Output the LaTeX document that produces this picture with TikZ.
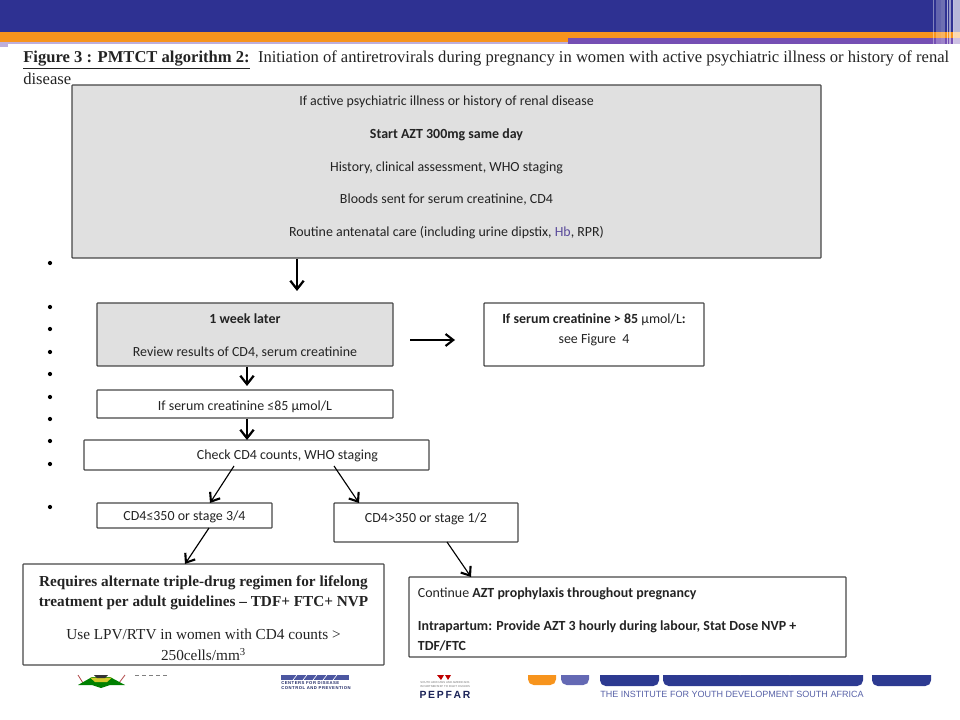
\documentclass[tikz,border=0pt]{standalone}
\usepackage{fontspec}
\setmainfont{Carlito}
\newfontfamily\serifface{Liberation Serif}
\newfontfamily\arialface{Liberation Sans}
\newfontfamily\tinyface[LetterSpace=12]{Liberation Sans}
\usepackage{tikz}
\usetikzlibrary{arrows.meta,positioning,calc}
\definecolor{barblue}{RGB}{46,49,146}
\definecolor{barorange}{RGB}{247,148,29}
\definecolor{barlilac}{RGB}{190,175,220}
\definecolor{barpurple}{RGB}{117,79,180}
\definecolor{boxgrey}{RGB}{224,224,224}
\definecolor{edgegrey}{RGB}{70,70,70}
\definecolor{hbpurple}{RGB}{90,75,155}
\definecolor{inkgrey}{RGB}{35,35,35}
\definecolor{logoblue}{RGB}{45,58,145}
\definecolor{logolav}{RGB}{100,105,180}
\newcommand{\boxlines}[3]{\raisebox{#1}[\height][\depth]{\begin{tabular}{@{}#2@{}}#3\end{tabular}}}
\newcommand{\serifline}{\serifface\fontsize{10.85}{12}\selectfont}
\tikzset{
    flowbox/.style={draw=edgegrey,line width=0.8pt,rounded corners=0.5pt,inner sep=0pt,text=inkgrey,
        font=\fontsize{9.9}{12}\selectfont},
    greybox/.style={flowbox,fill=boxgrey},
    bigarrow/.style={-{Straight Barb[length=6pt,width=9.5pt,line width=1.6pt]},line width=2pt,black},
    thinarrow/.style={-{Straight Barb[length=5.5pt,width=8.5pt,line width=1.5pt]},line width=0.8pt,black},
    titletext/.style={font=\serifface\fontsize{11.8}{15}\selectfont,text=inkgrey,anchor=base west,inner sep=0pt},
    bulletdot/.style={circle,fill=black,inner sep=0pt,minimum size=3pt},
    logopiece/.style={rounded corners=4pt}
}
\begin{document}
\begin{tikzpicture}[x=0.025cm,y=-0.025cm]
    \useasboundingbox (0,0) rectangle (960,720);
    % Header bars
    \fill[barblue] (0,0) rectangle (960,32);
    \fill[barorange] (0,32) rectangle (960,42);
    \fill[barlilac] (0,42) rectangle (568,44);
    \fill[barlilac] (0,44) rectangle (8,47);
    \fill[barpurple] (568,38) rectangle (960,44);
    \foreach \xa/\xb/\op in {933/934/0.4,936/941/0.25,941/945/0.3,947/948/0.6,949/951/0.5,953/954/0.7,954/960/0.65}
        \fill[white,opacity=\op] (\xa,0) rectangle (\xb,44);

    % Title
    \node[titletext] (title) at (23,62.5) {\textbf{\underline{Figure 3 : PMTCT algorithm 2:}}\ \ Initiation of antiretrovirals during pregnancy in women with active psychiatric illness or history of renal};
    \node[titletext] (titleend) at (23,84.5) {disease};

    % Bullets
    \foreach \y [count=\i] in {263,307,329,352,374,397,419,441,464,507}
        \node[bulletdot] (dot\i) at (50,\y) {};

    % Boxes
    \node[greybox,minimum width=749*0.025cm,minimum height=173*0.025cm] (assess) at (446.5,171.5)
        {\boxlines{2.7pt}{c}{If active psychiatric illness or history of renal disease\\[11.4pt]
        \textbf{Start AZT 300mg same day}\\[11.4pt]
        History, clinical assessment, WHO staging\\[11.4pt]
        Bloods sent for serum creatinine, CD4\\[11.4pt]
        Routine antenatal care (including urine dipstix, {\color{hbpurple}Hb}, RPR)}};
    \node[greybox,minimum width=296*0.025cm,minimum height=63*0.025cm] (review) at (245,334.5)
        {\boxlines{-1.4pt}{c}{\textbf{1 week later}\\[11.4pt]Review results of CD4, serum creatinine}};
    \node[flowbox,minimum width=220*0.025cm,minimum height=63*0.025cm] (figfour) at (594,334.5)
        {\boxlines{3.2pt}{c}{\textbf{If serum creatinine > 85 }µmol/L\textbf{:}\\[2.2pt]see Figure\ \ 4}};
    \node[flowbox,minimum width=296*0.025cm,minimum height=28*0.025cm] (lowcreat) at (245,404)
        {\boxlines{-2pt}{c}{If serum creatinine ≤85 µmol/L}};
    \node[flowbox,minimum width=345*0.025cm,minimum height=30*0.025cm] (check) at (256.5,455)
        {\hspace*{44pt}\boxlines{-0.7pt}{c}{Check CD4 counts, WHO staging}};
    \node[flowbox,minimum width=175*0.025cm,minimum height=25*0.025cm] (lowcd) at (184.5,515.5)
        {\boxlines{-1.4pt}{c}{CD4≤350 or stage 3/4}};
    \node[flowbox,minimum width=184*0.025cm,minimum height=39*0.025cm] (highcd) at (426,522.5)
        {\boxlines{2.5pt}{c}{CD4>350 or stage 1/2}};
    \node[flowbox,minimum width=361*0.025cm,minimum height=101*0.025cm] (triple) at (203.5,614.5)
        {\boxlines{-4.2pt}{c}{\serifline\textbf{Requires alternate triple-drug regimen for lifelong}\\[2.2pt]
        \serifline\textbf{treatment per adult guidelines – TDF+ FTC+ NVP}\\[11.4pt]
        \serifline Use LPV/RTV in women with CD4 counts >\\[2.2pt]
        \serifline 250cells/mm\textsuperscript{3}}};
    \node[flowbox,minimum width=437*0.025cm,minimum height=80*0.025cm] (continue) at (627.5,617)
        {\makebox[298pt][l]{\boxlines{-2.6pt}{l}{Continue \textbf{AZT prophylaxis throughout pregnancy}\\[11.4pt]
        \textbf{Intrapartum: Provide AZT 3 hourly during labour, Stat Dose NVP +}\\[2.2pt]
        \textbf{TDF/FTC}}}};

    % Arrow ends
    \coordinate (tipa) at (297,291);
    \coordinate (tipb) at (455,340);
    \coordinate (taila) at (410,340);
    \coordinate (tipc) at (247,386);
    \coordinate (tipd) at (247,440);
    \coordinate (taild) at (234,466);
    \coordinate (tipe) at (210,503);
    \coordinate (taile) at (334,466);
    \coordinate (tipf) at (359,503);
    \coordinate (tailf) at (209,528);
    \coordinate (tipg) at (185,564);
    \coordinate (tailg) at (447,542);
    \coordinate (tiph) at (471,577);

    % Connectors
    \draw[bigarrow] (assess.south -| tipa) -- (tipa);
    \draw[thinarrow] (taila) -- (tipb);
    \draw[bigarrow] (review.south -| tipc) -- (tipc);
    \draw[bigarrow] (lowcreat.south -| tipd) -- (tipd);
    \draw[thinarrow] (taild) -- (tipe);
    \draw[thinarrow] (taile) -- (tipf);
    \draw[thinarrow] (tailf) -- (tipg);
    \draw[thinarrow] (tailg) -- (tiph);

    % Logo strip, right
    \fill[barorange,logopiece] (528,665) rectangle (556,685);
    \fill[logolav,logopiece] (561,665) rectangle (589,685);
    \fill[logoblue,logopiece] (600,665) rectangle (659,686);
    \fill[logoblue,logopiece] (663,665) rectangle (863,686);
    \fill[logoblue,logopiece] (872,665) rectangle (931,686);
    \fill[white] (520,660) rectangle (940,675);
    \foreach \cx/\rx/\ry in {617/4/3,677/4/2,707/4/2,740/17/3.5,790/17/4,817/4/2,847/4/2}
        \fill[white] (\cx,675) ellipse ({\rx*0.025} and {\ry*0.025});
    \node[inner sep=0pt,anchor=west,text=logoblue!80,font=\arialface\fontsize{6.42}{7}\selectfont] (institute) at (600,694)
        {THE INSTITUTE FOR YOUTH DEVELOPMENT SOUTH AFRICA};

    % PEPFAR
    \fill[red!75!black] (437,675) -- (444,675) -- (441,680) -- cycle;
    \fill[red!75!black] (445,675) -- (451,675) -- (448,680) -- cycle;
    \node[inner sep=0pt,align=center,text=black!55,font=\arialface\fontsize{2}{2.7}\selectfont] (pepfarsub) at (445,684.5)
        {SOUTH AFRICANS AND AMERICANS\\IN PARTNERSHIP TO FIGHT HIV/AIDS};
    \node[inner sep=0pt,font=\arialface\bfseries\fontsize{7.4}{8}\selectfont,text=logoblue!60!black] (pepfar) at (445,694.5) {P\,E\,P\,F\,A\,R};

    % CDC
    \fill[logoblue!85] (281,675) rectangle (349,680);
    \foreach \sx in {293,303,313,323,333}
        \draw[white,line width=0.4pt] (\sx,680) -- (\sx+4,675);
    \node[inner sep=0pt,anchor=west,text=logoblue!70!black,font=\tinyface\bfseries\fontsize{3}{3}\selectfont] (cdcone) at (281,683.5) {CENTERS FOR DISEASE};
    \node[inner sep=0pt,anchor=west,text=logoblue!70!black,font=\tinyface\bfseries\fontsize{3}{3}\selectfont] (cdctwo) at (281,688) {CONTROL AND PREVENTION};

    % Crest
    \draw[red!40!gray,line width=0.6pt] (78,675) -- (83,683);
    \draw[red!40!gray,line width=0.6pt] (125,675) -- (119,683);
    \fill[green!50!black] (78,685) -- (92,677) -- (110,677) -- (125,685) -- (110,685) -- (101,688) -- (92,685) -- cycle;
    \fill[yellow!80!black] (90,677.5) -- (112,677.5) -- (107,682) -- (95,682) -- cycle;
    \fill[black!80] (94,675) -- (108,675) -- (105,678) -- (97,678) -- cycle;
    \draw[gray,line width=0.5pt,dash pattern=on 3pt off 2pt] (135,675.5) -- (168,675.5);
\end{tikzpicture}
\end{document}
